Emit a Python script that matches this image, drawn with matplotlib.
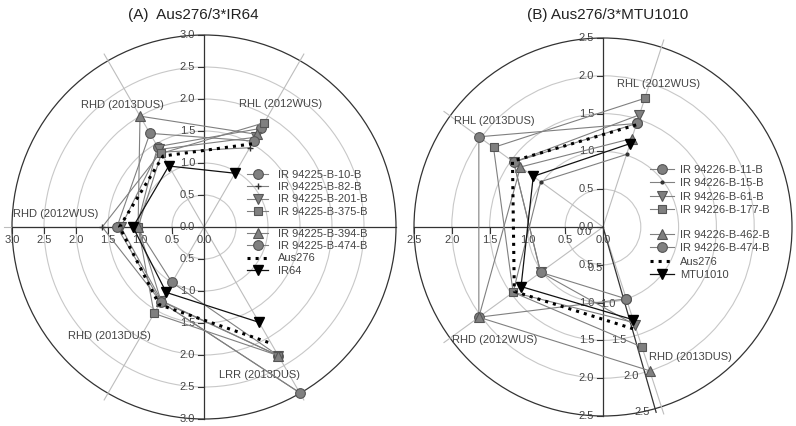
import numpy as np
import matplotlib
matplotlib.use('Agg')
import matplotlib.pyplot as plt
from matplotlib.patches import Circle

plt.rcParams['font.family'] = ['Liberation Sans', 'DejaVu Sans']

W, H = 796, 426

# (A) Aus276/3*IR64
spokes_a = ['RHL (2012WUS)', 'RHD (2013DUS)', 'RHD (2012WUS)', 'RHD (2013DUS)', 'LRR (2013DUS)']
angles_a = [60, 120, 180, 240, 300]
names_a = ['IR 94225-B-10-B', 'IR 94225-B-82-B', 'IR 94225-B-201-B', 'IR 94225-B-375-B',
           'IR 94225-B-394-B', 'IR 94225-B-474-B', 'Aus276', 'IR64']
a_10 = [1.78, 1.45, 1.05, 1.00, 2.32]
a_82 = [1.43, 1.35, 1.59, 1.35, 2.99]
a_201 = [1.62, 1.40, 1.30, 1.33, 2.32]
a_375 = [1.88, 1.33, 1.03, 1.56, 2.32]
a_394 = [1.67, 2.00, 1.03, 1.34, 2.32]
a_474 = [1.55, 1.69, 1.36, 1.35, 2.99]
a_aus = [1.50, 1.28, 1.32, 1.40, 2.10]
a_ir64 = [0.97, 1.10, 1.11, 1.18, 1.72]

# (B) Aus276/3*MTU1010
spokes_b = ['RHL (2012WUS)', 'RHL (2013DUS)', 'RHD (2012WUS)', 'RHD (2013DUS)']
angles_b = [72, 144, 216, 288]
names_b = ['IR 94226-B-11-B', 'IR 94226-B-15-B', 'IR 94226-B-61-B', 'IR 94226-B-177-B',
           'IR 94226-B-462-B', 'IR 94226-B-474-B', 'Aus276', 'MTU1010']
b_11 = [1.44, 2.03, 2.03, 1.00]
b_15 = [1.01, 1.02, 1.47, 1.33]
b_61 = [1.56, 1.46, 1.02, 1.36]
b_177 = [1.79, 1.79, 1.47, 1.67]
b_462 = [1.23, 1.35, 2.03, 2.00]
b_474 = [1.44, 1.46, 1.02, 1.00]
b_aus = [1.42, 1.48, 1.45, 1.43]
b_mtu = [1.16, 1.14, 1.34, 1.29]

GRAY = '#808080'
EDGE = '#555555'
TXT = '#444444'

fig = plt.figure(figsize=(W / 100, H / 100), dpi=100)


def make_ax(cx, cy, ppu, L):
    half = L * ppu
    rect = [(cx - half) / W, (H - (cy + half)) / H, 2 * half / W, 2 * half / H]
    ax = fig.add_axes(rect)
    ax.set_xlim(-L, L)
    ax.set_ylim(-L, L)
    ax.set_aspect('equal')
    ax.axis('off')
    return ax


def pol(r, deg):
    t = np.radians(deg)
    return np.asarray(r) * np.cos(t), np.asarray(r) * np.sin(t)


def draw_frame(ax, R, ppu, angles, spokes, spoke_pos, right_axis=True):
    # grid circles
    for r in np.arange(0.5, R, 0.5):
        ax.add_patch(Circle((0, 0), r, fill=False, ec='#c8c8c8', lw=0.8))
    ax.add_patch(Circle((0, 0), R, fill=False, ec='#333333', lw=0.9))
    # spokes
    for a in angles:
        x, y = pol([0, R * 1.04], a)
        ax.plot(x, y, color='#bdbdbd', lw=0.8, zorder=1)
    # cartesian cross axes
    tk = 6 / ppu
    ax.plot([0, 0], [-R, R], color='#333333', lw=0.9, zorder=2)
    ax.plot([-R, R if right_axis else 0], [0, 0], color='#333333', lw=0.9, zorder=2)
    ticks = np.arange(-R, R + 0.01, 0.5)
    for v in ticks:
        ax.plot([-tk, 0], [v, v], color='#333333', lw=0.8)
        ax.text(-tk - 3 / ppu, v, f'{abs(v):.1f}', ha='right', va='center',
                fontsize=8, color=TXT)
    for v in np.arange(-R, 0.01, 0.5):
        ax.plot([v, v], [-tk, 0], color='#333333', lw=0.8)
        ax.text(v, -tk - 2 / ppu, f'{abs(v):.1f}', ha='center', va='top',
                fontsize=8, color=TXT)
    # spoke names
    for name, (r, a) in zip(spokes, spoke_pos):
        x, y = pol(r, a)
        ax.text(x, y, name, ha='center', va='center', fontsize=8, color=TXT)


def draw_series(ax, angles, data, names, markers, small):
    handles = []
    for vals, name, mk in zip(data[:6], names[:6], markers):
        x, y = pol(vals, angles)
        if mk in ('+', '.'):
            h, = ax.plot(x, y, color=GRAY, lw=0.8, marker=mk, ms=small, mew=1,
                         mfc='#333333', mec='#333333', label=name, clip_on=False, zorder=3)
        else:
            ms = 6 if mk == 's' else 7
            h, = ax.plot(x, y, color=GRAY, lw=0.8, marker=mk, ms=ms, mfc=GRAY,
                         mec=EDGE, mew=0.8, label=name, clip_on=False, zorder=3)
        handles.append(h)
    x, y = pol(data[6], angles)
    h, = ax.plot(x, y, color='black', lw=2.2, ls=':', label=names[6], zorder=4)
    handles.append(h)
    x, y = pol(data[7], angles)
    h, = ax.plot(x, y, color='#111111', lw=0.9, marker='v', ms=7, mfc='black',
                 mec='black', label=names[7], zorder=5)
    handles.append(h)
    return handles


def add_legends(ax, handles, x0, y1, y2, hl, hp, sp):
    kw = dict(loc='upper left', frameon=False, fontsize=8, borderpad=0,
              borderaxespad=0, handlelength=hl, handletextpad=hp, labelspacing=sp,
              bbox_transform=fig.transFigure, labelcolor=TXT)
    leg1 = ax.legend(handles=handles[:4], bbox_to_anchor=(x0 / W, 1 - y1 / H), **kw)
    ax.add_artist(leg1)
    ax.legend(handles=handles[4:], bbox_to_anchor=(x0 / W, 1 - y2 / H), **kw)


# ---- panel A
ppu_a = 64.0
ax_a = make_ax(204, 227, ppu_a, 3.25)
draw_frame(ax_a, 3.0, ppu_a, angles_a, spokes_a,
           [(2.26, 58), (2.29, 123.6), (2.33, 175), (2.26, 229), (2.47, 290.7)])
h_a = draw_series(ax_a, angles_a,
                  [a_10, a_82, a_201, a_375, a_394, a_474, a_aus, a_ir64],
                  names_a, ['o', '+', 'v', 's', '^', 'o'], 5)
add_legends(ax_a, h_a, 247, 170, 229, 1.9, 0.9, 0.2)
fig.text(193 / W, 1 - 15 / H, '(A)  Aus276/3*IR64', ha='center', va='center',
         fontsize=11, color='#222222')

# ---- panel B
ppu_b = 75.6
ax_b = make_ax(603, 227, ppu_b, 2.75)
draw_frame(ax_b, 2.5, ppu_b, angles_b, spokes_b,
           [(2.03, 68.6), (2.01, 135.8), (2.07, 226), (2.07, 304)], right_axis=False)
# extra radial axis along the RHD (2013DUS) spoke
x, y = pol([0, 2.55], 286)
ax_b.plot(x, y, color='#333333', lw=0.9, zorder=2)
for r in np.arange(0, 2.51, 0.5):
    x, y = pol(r, 288)
    ax_b.text(x - 19 / ppu_b, y - 5 / ppu_b, f'{r:.1f}', ha='center', va='center',
              fontsize=8, color=TXT)
h_b = draw_series(ax_b, angles_b,
                  [b_11, b_15, b_61, b_177, b_462, b_474, b_aus, b_mtu],
                  names_b, ['o', '.', 'v', 's', '^', 'o'], 4)
add_legends(ax_b, h_b, 650, 165, 230, 2.2, 0.5, 0.3)
fig.text(608 / W, 1 - 15 / H, '(B) Aus276/3*MTU1010', ha='center', va='center',
         fontsize=11, color='#222222')

fig.savefig('out.png', dpi=100)
